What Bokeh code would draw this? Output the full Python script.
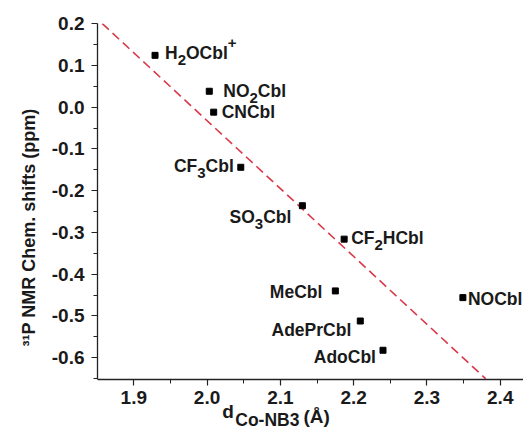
from bokeh.plotting import figure
from bokeh.models import ColumnDataSource, FixedTicker, PrintfTickFormatter, Range1d
from bokeh.core.properties import value, field
from bokeh.embed import file_html
from bokeh.resources import INLINE

# ---- data ----
compounds = ["H2OCbl+", "NO2Cbl", "CNCbl", "CF3Cbl", "SO3Cbl", "CF2HCbl",
             "MeCbl", "NOCbl", "AdePrCbl", "AdoCbl"]
d_co_nb3 = [1.929, 2.003, 2.009, 2.046, 2.130, 2.187, 2.175, 2.349, 2.209, 2.240]
p31_shift = [0.124, 0.038, -0.012, -0.144, -0.236, -0.316, -0.440, -0.456, -0.512, -0.582]
# label text pieces (text, kind) with kind: "" normal, "sub", "sup"
label_parts = [
    [("H", ""), ("2", "sub"), ("OCbl", ""), ("+", "sup")],
    [("NO", ""), ("2", "sub"), ("Cbl", "")],
    [("CNCbl", "")],
    [("CF", ""), ("3", "sub"), ("Cbl", "")],
    [("SO", ""), ("3", "sub"), ("Cbl", "")],
    [("CF", ""), ("2", "sub"), ("HCbl", "")],
    [("MeCbl", "")],
    [("NOCbl", "")],
    [("AdePrCbl", "")],
    [("AdoCbl", "")],
]
fit_x = [1.857, 2.380]
fit_y = [0.200, -0.650]
x_ticks = [1.9, 2.0, 2.1, 2.2, 2.3, 2.4]
x_minor = [1.85, 1.95, 2.05, 2.15, 2.25, 2.35, 2.45]
y_ticks = [-0.6, -0.5, -0.4, -0.3, -0.2, -0.1, 0.0, 0.1, 0.2]
y_minor = [-0.65, -0.55, -0.45, -0.35, -0.25, -0.15, -0.05, 0.05, 0.15]
y_label = "\u00b3\u00b9P NMR Chem. shifts (ppm)"
x_label_parts = [("d", ""), ("Co-NB3", "sub"), ("(\u00c5)", "low")]

# ---- layout / style ----
FONT = "Liberation Sans"
W = {' ': .278, '+': .584, '-': .333, '.': .278, '(': .333, ')': .333,
     '0': .556, '1': .556, '2': .556, '3': .556,
     'A': .722, 'B': .722, 'C': .722, 'F': .611, 'H': .722, 'M': .833,
     'N': .722, 'O': .778, 'P': .667, 'S': .667, '\u00c5': .722,
     'a': .556, 'b': .611, 'd': .611, 'e': .556, 'l': .278, 'o': .611, 'r': .389, 'h': .611}
FS = {"": 17.5, "sub": 15, "sup": 15}
DY = {"": 0, "sub": 7, "sup": -10}

def tw(s, fs):
    return sum(W.get(c, .6) for c in s) * fs

# side, dx, dy (px)
placement = [("R", 10, -2), ("R", 14, 0), ("R", 8, 0), ("L", 7, -1), ("L", 11, 11),
             ("R", 7, -1), ("L", 13, 1), ("R", 5, 1), ("L", 9, 9), ("L", 7, 7)]

Y_AXIS_AT = -0.652   # where the x axis sits (bottom of the data area)
p = figure(width=523, height=431, output_backend="svg", toolbar_location=None,
           x_range=Range1d(1.8505, 2.4317), y_range=Range1d(-0.7765, 0.2002),
           min_border_left=97, min_border_right=0, min_border_top=23, min_border_bottom=0)
p.outline_line_color = None
p.grid.visible = False
p.background_fill_color = "white"
p.border_fill_color = "white"

for ax, ticks, minor in ((p.xaxis[0], x_ticks, x_minor), (p.yaxis[0], y_ticks, y_minor)):
    ax.ticker = FixedTicker(ticks=ticks, minor_ticks=minor)
    ax.formatter = PrintfTickFormatter(format="%.1f")
    ax.axis_line_color = "#222222"
    ax.axis_line_width = 1.3
    ax.major_tick_line_color = "#222222"
    ax.minor_tick_line_color = "#222222"
    ax.major_tick_line_width = 1.2
    ax.minor_tick_line_width = 1.0
    ax.major_tick_in = 0
    ax.major_tick_out = 6
    ax.minor_tick_in = 0
    ax.minor_tick_out = 4
    ax.major_label_text_font = FONT
    ax.major_label_text_font_style = "bold"
    ax.major_label_text_font_size = "19px"
    ax.major_label_text_color = "#1a1a1a"
p.xaxis.fixed_location = Y_AXIS_AT
p.yaxis.bounds = (Y_AXIS_AT, 0.2002)
p.xaxis.major_label_standoff = 6
p.yaxis.major_label_standoff = 7
p.yaxis.axis_label = y_label
p.yaxis.axis_label_text_font = FONT
p.yaxis.axis_label_text_font_style = "bold"
p.yaxis.axis_label_text_font_size = "18px"
p.yaxis.axis_label_text_color = "#1a1a1a"
p.yaxis.axis_label_standoff = 10

p.line(fit_x, fit_y, line_color="#d83a4a", line_width=1.6, line_dash="9 5")
p.scatter(d_co_nb3, p31_shift, marker="square", size=6, color="black")

# point labels + x axis title, all as text pieces (middle baselines)
cols = dict(x=[], y=[], text=[], xo=[], yo=[], fs=[])
for xi, yi, parts, (side, dx, dy) in zip(d_co_nb3, p31_shift, label_parts, placement):
    total = sum(tw(t, FS[k]) for t, k in parts)
    start = dx if side == "R" else -dx - total
    cur = start
    for t, k in parts:
        cols["x"].append(xi)
        cols["y"].append(yi)
        cols["text"].append(t)
        cols["xo"].append(cur)
        cols["yo"].append(dy + DY[k])
        cols["fs"].append(f"{FS[k]}px")
        cur += tw(t, FS[k])

XFS = {"": 19, "sub": 17.5, "low": 19}
XDY = {"": 32, "sub": 41, "low": 37}
XGAP = {"": 0, "sub": 1.5, "low": 4}
anchor_x = 2.0206
cur = 0
for t, k in x_label_parts:
    cur += XGAP[k]
    cols["x"].append(anchor_x)
    cols["y"].append(Y_AXIS_AT)
    cols["text"].append(t)
    cols["xo"].append(cur)
    cols["yo"].append(XDY[k])
    cols["fs"].append(f"{XFS[k]}px")
    cur += tw(t, XFS[k])

p.text(x="x", y="y", text="text", x_offset="xo", y_offset="yo",
       text_font_size=field("fs"), text_font=value(FONT), text_font_style="bold",
       text_baseline="middle", text_align="left", text_color="#1a1a1a",
       source=ColumnDataSource(cols))

open("out.html", "w").write(file_html(p, INLINE))
